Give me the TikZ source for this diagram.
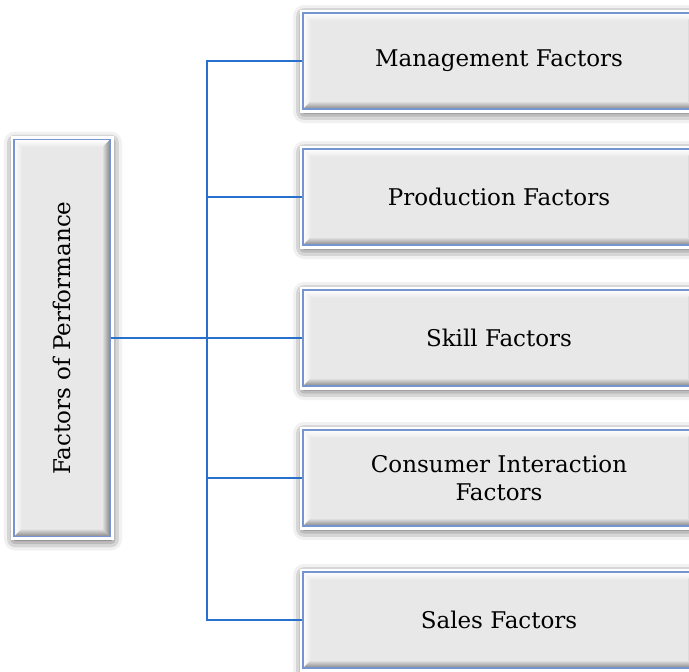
\documentclass[tikz,border=0pt]{standalone}
\usepackage{fontspec}
\setmainfont{DejaVu Serif}
\usetikzlibrary{shadows.blur}
\definecolor{boxgray}{RGB}{232,232,232}
\definecolor{rimblue}{RGB}{118,148,208}
\definecolor{linkblue}{RGB}{40,112,205}
\definecolor{bevdark}{RGB}{135,135,135}

\tikzset{
  bevelbox/.style={rectangle, inner sep=0pt, fill=boxgray, draw=rimblue,
    line width=1.2pt, align=center, font=\fontsize{23}{28}\selectfont,
    blur shadow={shadow xshift=1pt, shadow yshift=-3pt,
                 shadow blur radius=11pt, shadow opacity=85},
    preaction={draw=white, line width=7pt},
    path picture={
      \path (path picture bounding box.north west) coordinate (pnw)
            (path picture bounding box.north east) coordinate (pne)
            (path picture bounding box.south west) coordinate (psw)
            (path picture bounding box.south east) coordinate (pse);
      % upper and left bevels: light
      \shade[top color=white, bottom color=boxgray]
        (pnw) -- (pne) -- ([shift={(-8pt,-8pt)}]pne) -- ([shift={(8pt,-8pt)}]pnw) -- cycle;
      \shade[left color=white, right color=boxgray]
        (pnw) -- ([shift={(8pt,-8pt)}]pnw) -- ([shift={(8pt,8pt)}]psw) -- (psw) -- cycle;
      % right and lower bevels: dark
      \shade[left color=boxgray, right color=bevdark]
        (pne) -- (pse) -- ([shift={(-8pt,8pt)}]pse) -- ([shift={(-8pt,-8pt)}]pne) -- cycle;
      \shade[top color=boxgray, bottom color=bevdark]
        (psw) -- (pse) -- ([shift={(-8pt,8pt)}]pse) -- ([shift={(8pt,8pt)}]psw) -- cycle;
    }},
  factorbox/.style={bevelbox, minimum width=392pt, minimum height=96pt},
  link/.style={draw=linkblue, line width=1.2pt}
}

\begin{document}
\begin{tikzpicture}[x=1pt, y=-1pt]
  \useasboundingbox (0,0) rectangle (689,672);

  \node[bevelbox, minimum width=96pt, minimum height=397pt] (perf) at (62,338)
    {\rotatebox{90}{Factors of Performance}};

  \node[factorbox] (mgmt)  at (499,61)  {\raisebox{-3pt}{Management Factors}};
  \node[factorbox] (prod)  at (499,197) {\raisebox{-2pt}{Production Factors}};
  \node[factorbox] (skill) at (499,338) {\raisebox{-2pt}{Skill Factors}};
  \node[factorbox] (cons)  at (499,478) {Consumer Interaction\\Factors};
  \node[factorbox] (sales) at (499,620) {\raisebox{-2pt}{Sales Factors}};

  \coordinate (jn) at (207,338);
  \draw[link] (perf.east) -- (skill.west);
  \foreach \n in {mgmt,prod,cons,sales}
    \draw[link] (\n.west) -| (jn);
\end{tikzpicture}
\end{document}
